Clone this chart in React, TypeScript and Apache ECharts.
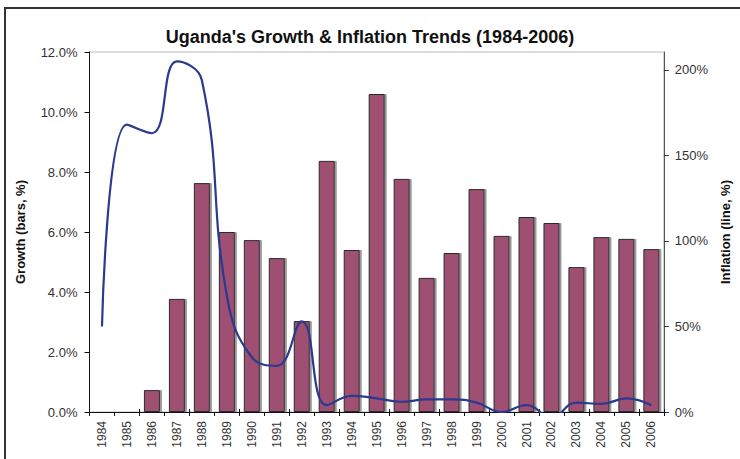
import React, { useEffect, useRef } from "react";
import * as echarts from "echarts";

const years = ["1984","1985","1986","1987","1988","1989","1990","1991","1992","1993","1994","1995","1996","1997","1998","1999","2000","2001","2002","2003","2004","2005","2006"];
const growth = [null, null, 0.73, 3.77, 7.63, 6.0, 5.73, 5.13, 3.03, 8.37, 5.4, 10.6, 7.77, 4.47, 5.3, 7.43, 5.87, 6.5, 6.3, 4.83, 5.83, 5.77, 5.43];
const inflation = [50, 168, 163, 205, 194, 68, 32, 27, 53, 4, 9.4, 8, 6, 7.4, 7.4, 5.5, 0, 4, -3, 5.5, 4.7, 8, 4];
const growthTicks = [0, 2, 4, 6, 8, 10, 12];
const inflationTicks = [0, 50, 100, 150, 200];

const FONT = "'Liberation Sans', Arial, sans-serif";

export default function App() {
  const ref = useRef<HTMLDivElement>(null);
  useEffect(() => {
    if (!ref.current) return;
    const chart = echarts.init(ref.current, null, { renderer: "svg" });
    chart.setOption({
      animation: false,
      backgroundColor: "#fff",
      textStyle: { fontFamily: FONT },
      title: {
        text: "Uganda's Growth & Inflation Trends (1984-2006)",
        left: "center",
        top: 23,
        textStyle: { fontFamily: FONT, fontSize: 18, fontWeight: "bold", color: "#111" },
      },
      graphic: [
        {
          type: "rect",
          shape: { x: 5, y: 8, width: 760, height: 480 },
          style: { fill: "none", stroke: "#333", lineWidth: 2 },
          silent: true,
        },
      ],
      grid: {
        left: 89.5,
        right: 75,
        top: 52,
        bottom: 47,
        show: true,
        borderColor: "#bbb",
        borderWidth: 1,
        backgroundColor: "transparent",
      },
      xAxis: [
        {
          type: "category",
          data: years,
          boundaryGap: true,
          axisLine: { lineStyle: { color: "#111", width: 1 } },
          axisTick: { show: true, length: 4, lineStyle: { color: "#111" } },
          axisLabel: {
            rotate: 90,
            fontSize: 12,
            color: "#333",
            margin: 9,
            fontFamily: FONT,
          },
        },
        {
          type: "category",
          data: years,
          boundaryGap: true,
          position: "bottom",
          axisLine: { show: false },
          axisTick: { show: true, inside: true, length: 3, lineStyle: { color: "#111" } },
          axisLabel: { show: false },
        },
      ],
      yAxis: [
        {
          type: "value",
          min: 0,
          max: 12,
          interval: 2,
          name: "Growth (bars, %)",
          nameLocation: "middle",
          nameGap: 63,
          nameTextStyle: { fontFamily: FONT, fontSize: 13, fontWeight: "bold", color: "#111" },
          splitLine: { show: false },
          axisLine: { show: true, lineStyle: { color: "#111" } },
          axisTick: { show: true, length: 5, lineStyle: { color: "#111" }, customValues: growthTicks },
          axisLabel: {
            fontSize: 13,
            color: "#333",
            margin: 12,
            fontFamily: FONT,
            customValues: growthTicks,
            formatter: (v: number) => v.toFixed(1) + "%",
          },
        },
        {
          type: "value",
          min: 0,
          max: 210.5,
          interval: 50,
          position: "right",
          name: "Inflation (line, %)",
          nameLocation: "middle",
          nameGap: 55,
          nameRotate: 90,
          nameTextStyle: { fontFamily: FONT, fontSize: 13, fontWeight: "bold", color: "#111" },
          splitLine: { show: false },
          axisLine: { show: true, lineStyle: { color: "#555" } },
          axisTick: { show: true, length: 5, lineStyle: { color: "#333" }, customValues: inflationTicks },
          axisLabel: {
            fontSize: 13,
            color: "#333",
            margin: 11,
            fontFamily: FONT,
            customValues: inflationTicks,
            formatter: (v: number) => (v % 50 === 0 ? v + "%" : ""),
          },
        },
      ],
      series: [
        {
          type: "bar",
          yAxisIndex: 0,
          data: growth,
          barWidth: 16,
          itemStyle: {
            color: "#9E4F72",
            borderColor: "#2a2a2a",
            borderWidth: 1,
            shadowColor: "#9a9a9a",
            shadowOffsetX: 2,
            shadowOffsetY: 0,
            shadowBlur: 0.5,
          },
        },
        {
          type: "line",
          yAxisIndex: 1,
          data: inflation,
          smooth: 0.45,
          showSymbol: false,
          symbol: "none",
          clip: true,
          lineStyle: { color: "#2B3990", width: 2.2 },
          z: 5,
        },
      ],
    });
    return () => chart.dispose();
  }, []);
  return (
    <div
      ref={ref}
      style={{ position: "absolute", left: 0, top: 0, width: 740, height: 459 }}
    />
  );
}
